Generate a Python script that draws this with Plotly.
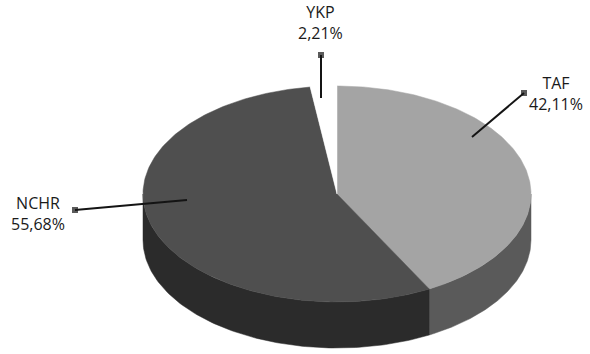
import numpy as np
import plotly.graph_objects as go

# ---- data ----
labels = ["TAF", "NCHR", "YKP"]
values = [42.11, 55.68, 2.21]

# ---- style ----
top_colors = ["#a4a4a4", "#4f4f4f", "#ffffff"]
side_colors = ["#5a5a5a", "#2b2b2b", "#e6e6e6"]
label_pos = {"TAF": (556, 93), "NCHR": (38, 213), "YKP": (320, 22)}
leader = {"TAF": ((524, 93), (472, 137)),
          "NCHR": ((75, 210), (187, 200)),
          "YKP": ((321, 55), (321, 98))}

# ellipse geometry (pixel-like axis units)
cx, cy, rx, ry, depth = 337, 194, 194, 108, 46

def pt(t_deg, dy=0.0):
    t = np.radians(t_deg)
    return cx + rx * np.cos(t), cy - ry * np.sin(t) + dy

fig = go.Figure()

total = sum(values)
starts, ends = [], []
acc = 0.0
for v in values:
    a0 = 90 - acc / total * 360
    a1 = a0 - v / total * 360
    starts.append(a0)
    ends.append(a1)
    acc += v

# side walls (front half: angles in (-180, 0) modulo 360)
for i, (a0, a1) in enumerate(zip(starts, ends)):
    for k in range(-2, 2):
        lo = max(a1, -180 + 360 * k)
        hi = min(a0, 0 + 360 * k)
        if hi - lo <= 0:
            continue
        t = np.linspace(lo, hi, 120)
        xt, yt = pt(t)
        xb, yb = pt(t[::-1], depth)
        xs = np.concatenate([xt, xb, xt[:1]])
        ys = np.concatenate([yt, yb, yt[:1]])
        fig.add_trace(go.Scatter(x=xs, y=ys, mode="lines", fill="toself",
                                 fillcolor=side_colors[i],
                                 line=dict(color=side_colors[i], width=0.5),
                                 hoverinfo="skip", showlegend=False))

# top faces
for i, (a0, a1) in enumerate(zip(starts, ends)):
    t = np.linspace(a0, a1, 200)
    xa, ya = pt(t)
    xs = np.concatenate([[cx], xa, [cx]])
    ys = np.concatenate([[cy], ya, [cy]])
    fig.add_trace(go.Scatter(x=xs, y=ys, mode="lines", fill="toself",
                             fillcolor=top_colors[i],
                             line=dict(color=top_colors[i], width=0.5),
                             hoverinfo="skip", showlegend=False))

# leader lines and labels
for lab, val in zip(labels, values):
    (x0, y0), (x1, y1) = leader[lab]
    fig.add_trace(go.Scatter(x=[x0, x1], y=[y0, y1], mode="lines+markers",
                             line=dict(color="#141414", width=2),
                             marker=dict(symbol="square", size=[6, 0], color="#141414",
                                         line=dict(width=0)),
                             hoverinfo="skip", showlegend=False))
    txt = f"{lab}<br>{val:.2f}".replace(".", ",") + "%"
    lx, ly = label_pos[lab]
    fig.add_annotation(x=lx, y=ly, xref="x", yref="y", text=txt, showarrow=False,
                       align="center", xanchor="center", yanchor="middle",
                       font=dict(family="Open Sans", size=16, color="#1a1a1a"))

fig.update_layout(width=590, height=354, margin=dict(l=0, r=0, t=0, b=0),
                  paper_bgcolor="white", plot_bgcolor="white", autosize=False,
                  xaxis=dict(range=[0, 590], visible=False, fixedrange=True),
                  yaxis=dict(range=[354, 0], visible=False, fixedrange=True))

fig.write_html("out.html")
